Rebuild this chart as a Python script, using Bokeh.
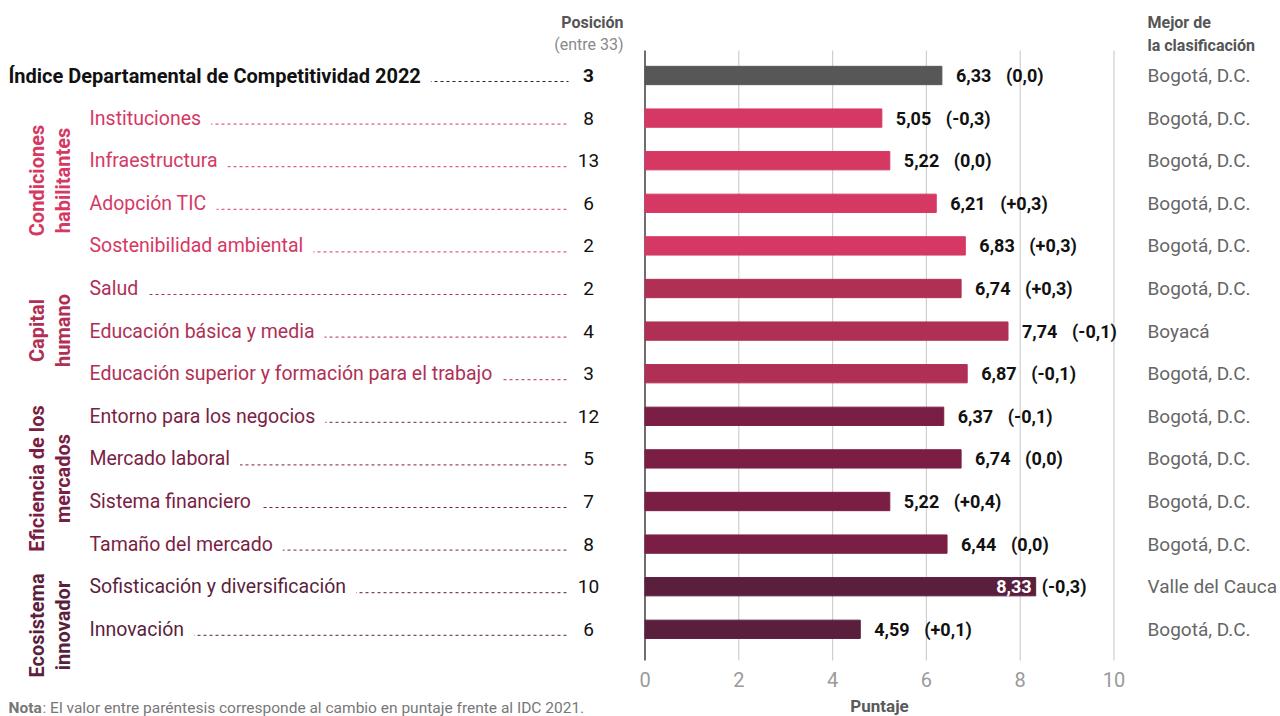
from math import pi
from bokeh.plotting import figure
from bokeh.models import Range1d, ColumnDataSource
from bokeh.core.properties import value
from bokeh.embed import file_html
from bokeh.resources import INLINE

# ---------------- data ----------------
categories = [
    "Índice Departamental de Competitividad 2022",
    "Instituciones",
    "Infraestructura",
    "Adopción TIC",
    "Sostenibilidad ambiental",
    "Salud",
    "Educación básica y media",
    "Educación superior y formación para el trabajo",
    "Entorno para los negocios",
    "Mercado laboral",
    "Sistema financiero",
    "Tamaño del mercado",
    "Sofisticación y diversificación",
    "Innovación",
]
groups = [
    "IDC",
    "Condiciones habilitantes", "Condiciones habilitantes", "Condiciones habilitantes", "Condiciones habilitantes",
    "Capital humano", "Capital humano", "Capital humano",
    "Eficiencia de los mercados", "Eficiencia de los mercados", "Eficiencia de los mercados", "Eficiencia de los mercados",
    "Ecosistema innovador", "Ecosistema innovador",
]
scores = [6.33, 5.05, 5.22, 6.21, 6.83, 6.74, 7.74, 6.87, 6.37, 6.74, 5.22, 6.44, 8.33, 4.59]
changes = [0.0, -0.3, 0.0, 0.3, 0.3, 0.3, -0.1, -0.1, -0.1, 0.0, 0.4, 0.0, -0.3, 0.1]
positions = [3, 8, 13, 6, 2, 2, 4, 3, 12, 5, 7, 8, 10, 6]
best_dept = ["Bogotá, D.C."] * 6 + ["Boyacá"] + ["Bogotá, D.C."] * 5 + ["Valle del Cauca", "Bogotá, D.C."]
group_titles = {
    "Condiciones habilitantes": ["Condiciones", "habilitantes"],
    "Capital humano": ["Capital", "humano"],
    "Eficiencia de los mercados": ["Eficiencia de los", "mercados"],
    "Ecosistema innovador": ["Ecosistema", "innovador"],
}
x_ticks = [0, 2, 4, 6, 8, 10]
x_label = "Puntaje"
note_bold = "Nota"
note_text = ": El valor entre paréntesis corresponde al cambio en puntaje frente al IDC 2021."

# ---------------- styles ----------------
group_colors = {
    "IDC": "#575757",
    "Condiciones habilitantes": "#d63864",
    "Capital humano": "#b03055",
    "Eficiencia de los mercados": "#7b1e45",
    "Ecosistema innovador": "#5b1f3e",
}
FONT = value("Roboto")

W, H = 1280, 716
X0_PX = 644.5      # canvas px of score 0
PX_UNIT = 46.9     # px per score unit
Y0_PX = 75.0       # canvas px of row 0 center
ROW_PX = 42.6
PAD = 10


def xp(px):
    return (px - X0_PX) / PX_UNIT


def yp(py):
    return (py - Y0_PX) / ROW_PX


x_range = Range1d(xp(0), xp(W))
y_range = Range1d(yp(H), yp(0))

p = figure(width=W, height=H, x_range=x_range, y_range=y_range,
           output_backend="svg", toolbar_location=None,
           x_axis_location=None, y_axis_location=None,
           min_border_left=0, min_border_right=0, min_border_top=0, min_border_bottom=0)
p.outline_line_color = None
p.xgrid.visible = False
p.ygrid.visible = False
p.background_fill_color = "white"
p.border_fill_color = "white"

rows = list(range(len(categories)))
colors = [group_colors[g] for g in groups]

# grid lines
grid_top = yp(50)
grid_bot = yp(660)
gx = [t for t in x_ticks if t != 0]
p.segment(x0=gx, x1=gx, y0=[grid_top] * len(gx), y1=[grid_bot] * len(gx),
          line_color="#cfcfcf", line_width=1.2)
p.segment(x0=[0], x1=[0], y0=[grid_top], y1=[grid_bot], line_color="#4a4a4a", line_width=1.6)

# x tick labels and axis title, placed through the x scale
p.text(x=x_ticks, y=[yp(679)] * len(x_ticks), text=[str(t) for t in x_ticks], text_font=FONT,
       text_font_size="20px", text_color="#9a9a9a", text_baseline="middle", text_align="center")
p.text(x=[(x_ticks[0] + x_ticks[-1]) / 2], y=[yp(705)], text=[x_label], text_font=FONT,
       text_font_style="bold", text_font_size="17px", text_color="#5a5a5a",
       text_baseline="middle", text_align="center")

# bars
src = ColumnDataSource(dict(y=rows, score=scores, color=colors))
p.hbar(y="y", left=0, right="score", height=0.43, color="color", source=src)


def fmt_num(v):
    return f"{v:.2f}".replace(".", ",")


def fmt_chg(v):
    if abs(v) < 1e-9:
        return "(0,0)"
    s = f"{abs(v):.1f}".replace(".", ",")
    return f"(+{s})" if v > 0 else f"(-{s})"


out_i = [i for i in rows if scores[i] <= 8]
in_i = [i for i in rows if scores[i] > 8]
p.text(x=[scores[i] for i in out_i], y=out_i, text=[fmt_num(scores[i]) for i in out_i],
       x_offset=14, text_font=FONT, text_font_style="bold", text_font_size="18px",
       text_color="#111111", text_baseline="middle", text_align="left")
p.text(x=[scores[i] for i in out_i], y=out_i, text=[fmt_chg(changes[i]) for i in out_i],
       x_offset=64, text_font=FONT, text_font_style="bold", text_font_size="18px",
       text_color="#111111", text_baseline="middle", text_align="left")
p.text(x=[scores[i] for i in in_i], y=in_i, text=[fmt_num(scores[i]) for i in in_i],
       x_offset=-4, text_font=FONT, text_font_style="bold", text_font_size="18px",
       text_color="white", text_baseline="middle", text_align="right")
p.text(x=[scores[i] for i in in_i], y=in_i, text=[fmt_chg(changes[i]) for i in in_i],
       x_offset=6, text_font=FONT, text_font_style="bold", text_font_size="18px",
       text_color="#111111", text_baseline="middle", text_align="left")

# leader lines (hidden under the labels by their white background)
for i in rows:
    x_start = xp(8) if i == 0 else xp(89)
    ly = i + 6 / ROW_PX
    p.line(x=[x_start, xp(568)], y=[ly, ly], line_color=colors[i] if i else "#222222",
           line_width=1, line_dash="3 3")

# category labels (background box covers the leader under the text)
p.text(x=[xp(8 - PAD)], y=[0], text=[categories[0]], text_font=FONT, text_font_style="bold",
       text_font_size="20px", text_color="#111111", text_baseline="middle", text_align="left",
       background_fill_color="white", padding=PAD)
p.text(x=[xp(89 - PAD)] * (len(rows) - 1), y=rows[1:], text=categories[1:], text_font=FONT,
       text_font_size="19.5px", text_color=colors[1:], text_baseline="middle", text_align="left",
       background_fill_color="white", padding=PAD)

# positions
p.text(x=[xp(588)], y=[0], text=[str(positions[0])], text_font=FONT, text_font_style="bold",
       text_font_size="19px", text_color="#111111", text_baseline="middle", text_align="center")
p.text(x=[xp(588)] * (len(rows) - 1), y=rows[1:], text=[str(v) for v in positions[1:]], text_font=FONT,
       text_font_size="19px", text_color="#111111", text_baseline="middle", text_align="center")

# best department
p.text(x=[xp(1147)] * len(rows), y=rows, text=best_dept, text_font=FONT, text_font_size="19px",
       text_color="#666666", text_baseline="middle", text_align="left")

# headers
p.text(x=[xp(623)], y=[yp(22)], text=["Posición"], text_font=FONT, text_font_style="bold",
       text_font_size="16px", text_color="#555555", text_baseline="middle", text_align="right")
p.text(x=[xp(623)], y=[yp(44)], text=["(entre 33)"], text_font=FONT,
       text_font_size="16px", text_color="#8a8a8a", text_baseline="middle", text_align="right")
p.text(x=[xp(1147)] * 2, y=[yp(22), yp(45)], text=["Mejor de", "la clasificación"], text_font=FONT,
       text_font_style="bold", text_font_size="16px", text_color="#555555",
       text_baseline="middle", text_align="left")

# group titles (rotated)
group_centers = {
    "Condiciones habilitantes": yp(180),
    "Capital humano": yp(330),
    "Eficiencia de los mercados": yp(478),
    "Ecosistema innovador": yp(625),
}
for g, lines in group_titles.items():
    p.text(x=[xp(36), xp(62)], y=[group_centers[g]] * 2, text=lines, angle=pi / 2,
           text_font=FONT, text_font_style="bold", text_font_size="20px",
           text_color=group_colors[g], text_baseline="middle", text_align="center")

# note
p.text(x=[xp(8)], y=[yp(707)], text=[note_bold], text_font=FONT, text_font_style="bold",
       text_font_size="15.5px", text_color="#777777", text_baseline="middle", text_align="left")
p.text(x=[xp(42)], y=[yp(707)], text=[note_text], text_font=FONT,
       text_font_size="15.5px", text_color="#777777", text_baseline="middle", text_align="left")

open("out.html", "w").write(file_html(p, INLINE))
